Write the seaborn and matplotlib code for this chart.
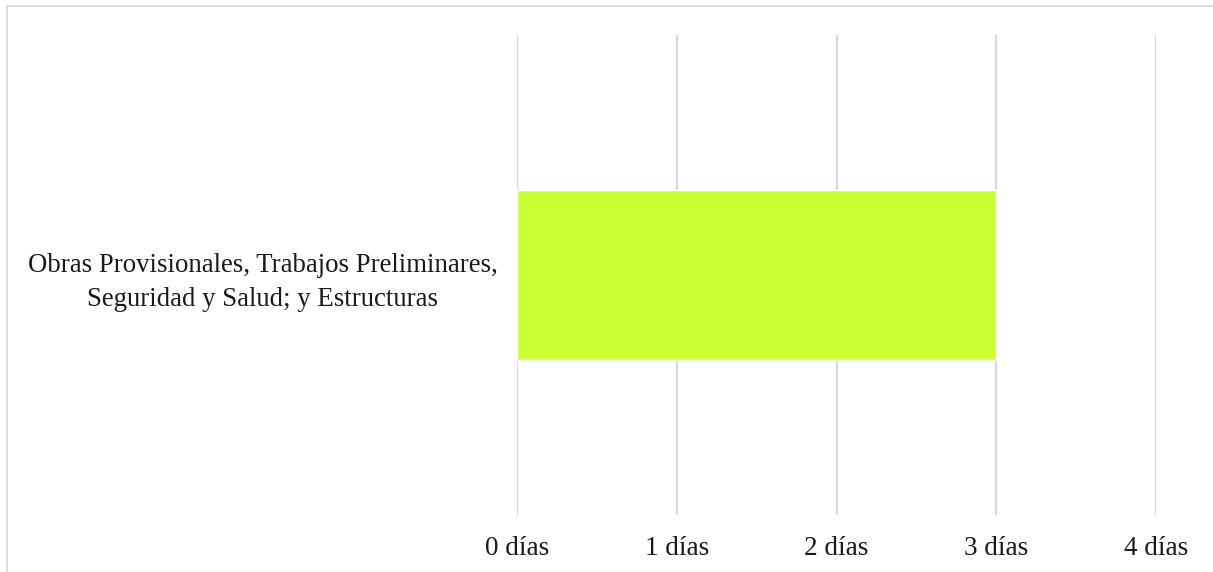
import matplotlib
matplotlib.use("Agg")
import matplotlib.pyplot as plt
from matplotlib.lines import Line2D
import seaborn as sns
import pandas as pd

categories = ["Obras Provisionales, Trabajos Preliminares,\nSeguridad y Salud; y Estructuras"]
durations = [3]
tick_values = [0, 1, 2, 3, 4]
tick_labels = ["0 días", "1 días", "2 días", "3 días", "4 días"]

df = pd.DataFrame({"tarea": categories, "dias": durations})

sns.set_theme(style="white")
plt.rcParams["font.family"] = ["Liberation Serif", "DejaVu Serif"]

W, H = 1213, 572
fig = plt.figure(figsize=(W / 100, H / 100), dpi=100)
ax = fig.add_axes([517 / W, 1 - 515 / H, (1156 - 517) / W, (515 - 35) / H])

sns.barplot(data=df, x="dias", y="tarea", orient="h", color="#CCFF33",
            saturation=1, width=0.354, ax=ax, zorder=3)

ax.set_xlim(0, 4)
ax.set_ylim(0.5, -0.5)
ax.set_xticks(tick_values)
ax.set_xticklabels(tick_labels, fontsize=19.5, color="#1a1a1a")
ax.tick_params(axis="x", length=0, pad=15)
ax.tick_params(axis="y", length=0, pad=14)
for lbl in ax.get_yticklabels():
    lbl.set_fontsize(19.3)
    lbl.set_color("#1a1a1a")
    lbl.set_multialignment("center")
    lbl.set_linespacing(1.5)
ax.set_xlabel("")
ax.set_ylabel("")
ax.xaxis.grid(True, color="#d9d9d9", linewidth=1.6, zorder=0)
ax.set_axisbelow(True)
for s in ax.spines.values():
    s.set_visible(False)

# outer frame of the chart area (top and left edges)
fig.add_artist(Line2D([7 / W, 1.0], [1 - 6 / H, 1 - 6 / H], transform=fig.transFigure,
                      color="#d9d9d9", linewidth=1.3))
fig.add_artist(Line2D([7 / W, 7 / W], [0.0, 1 - 6 / H], transform=fig.transFigure,
                      color="#d9d9d9", linewidth=1.3))

fig.savefig("out.png", dpi=100)
